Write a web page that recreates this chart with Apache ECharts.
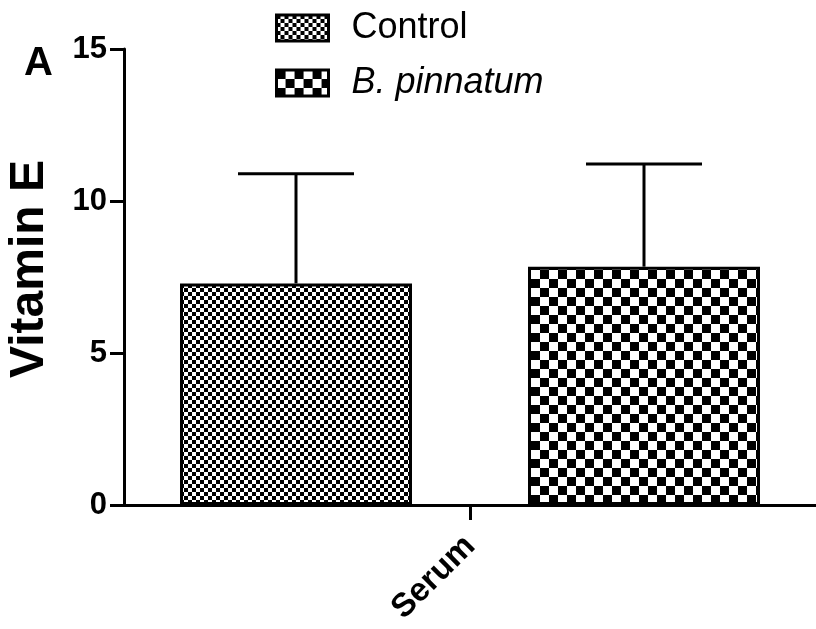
<!DOCTYPE html>
<html>
<head>
<meta charset="utf-8">
<script src="https://cdn.jsdelivr.net/npm/echarts@6/dist/echarts.min.js"></script>
<style>
html,body{margin:0;padding:0;background:#fff;}
#chart{width:816px;height:629px;}
</style>
</head>
<body>
<div id="chart"></div>
<script>
var categories = ['Serum'];
var seriesNames = ['Control', 'B. pinnatum'];
var controlMean = [7.29];
var controlSD = [3.61];
var pinnatumMean = [7.84];
var pinnatumSD = [3.38];
var yTicks = [0, 5, 10, 15];

var BAR_W = 232;
var BAR_GAP = 0.5;

function checker(cell) {
  var c = document.createElement('canvas');
  c.width = cell * 2; c.height = cell * 2;
  var g = c.getContext('2d');
  g.fillStyle = '#fff'; g.fillRect(0, 0, cell * 2, cell * 2);
  g.fillStyle = '#000';
  g.fillRect(0, 0, cell, cell);
  g.fillRect(cell, cell, cell, cell);
  return c;
}

var chart = echarts.init(document.getElementById('chart'), null, {renderer: 'canvas'});

function errorSeries(name, means, sds, sign) {
  return {
    type: 'custom',
    name: name + ' err',
    z: 1,
    silent: true,
    data: means.map(function (m, i) { return [i, m, m + sds[i]]; }),
    renderItem: function (params, api) {
      var base = api.coord([api.value(0), api.value(1)]);
      var top = api.coord([api.value(0), api.value(2)]);
      var off = sign * (BAR_W * (1 + BAR_GAP)) / 2;
      var x = base[0] + off;
      var capHalf = BAR_W / 4;
      return {
        type: 'group',
        children: [
          {type: 'line', shape: {x1: x, y1: base[1], x2: x, y2: top[1]}, style: {stroke: '#000', lineWidth: 3}},
          {type: 'line', shape: {x1: x - capHalf, y1: top[1], x2: x + capHalf, y2: top[1]}, style: {stroke: '#000', lineWidth: 3}}
        ]
      };
    }
  };
}

var option = {
  animation: false,
  backgroundColor: '#fff',
  textStyle: {fontFamily: 'Liberation Sans', color: '#000'},
  grid: {left: 124, right: 0, top: 49, bottom: 124, containLabel: false},
  legend: {
    orient: 'vertical',
    left: 270, top: 5,
    icon: 'rect',
    itemWidth: 52, itemHeight: 26, itemGap: 19,
    data: [
      {name: seriesNames[0], textStyle: {fontStyle: 'normal'}},
      {name: seriesNames[1], textStyle: {fontStyle: 'italic'}}
    ],
    textStyle: {fontFamily: 'Liberation Sans', fontSize: 36, color: '#000', padding: [0, 0, 0, 18]},
    itemStyle: {borderColor: '#000', borderWidth: 3}
  },
  graphic: [{
    type: 'text', left: 24, top: 44,
    style: {text: 'A', font: 'bold 40px "Liberation Sans"', fill: '#000'}
  }, {
    type: 'text', x: 30, y: 269, rotation: Math.PI / 2,
    style: {text: 'Vitamin E', font: 'bold 48px "Liberation Sans"', fill: '#000', align: 'center', verticalAlign: 'middle'}
  }],
  xAxis: {
    type: 'category',
    data: categories,
    axisLine: {lineStyle: {color: '#000', width: 3}},
    axisTick: {show: true, length: 15, lineStyle: {color: '#000', width: 3}, alignWithLabel: true},
    axisLabel: {rotate: 45, margin: 36, fontSize: 33, fontWeight: 'bold', color: '#000', fontFamily: 'Liberation Sans', padding: [0, 0, 0, 0]}
  },
  yAxis: {
    type: 'value',
    min: 0, max: 15, interval: 5,
    axisLine: {show: true, lineStyle: {color: '#000', width: 3}},
    axisTick: {show: true, length: 14, lineStyle: {color: '#000', width: 3}},
    splitLine: {show: false},
    axisLabel: {margin: 17, fontSize: 31, fontWeight: 'bold', color: '#000', fontFamily: 'Liberation Sans',
      formatter: function (v) { return yTicks.indexOf(v) >= 0 ? String(v) : ''; }}
  },
  series: [
    errorSeries(seriesNames[0], controlMean, controlSD, -1),
    errorSeries(seriesNames[1], pinnatumMean, pinnatumSD, 1),
    {
      type: 'bar', name: seriesNames[0], data: controlMean, z: 2,
      barWidth: BAR_W, barGap: (BAR_GAP * 100) + '%',
      itemStyle: {color: {image: checker(4), repeat: 'repeat'}, borderColor: '#000', borderWidth: 3}
    },
    {
      type: 'bar', name: seriesNames[1], data: pinnatumMean, z: 2,
      barWidth: BAR_W, barGap: (BAR_GAP * 100) + '%',
      itemStyle: {color: {image: checker(9), repeat: 'repeat'}, borderColor: '#000', borderWidth: 3}
    }
  ]
};
chart.setOption(option);
</script>
</body>
</html>
